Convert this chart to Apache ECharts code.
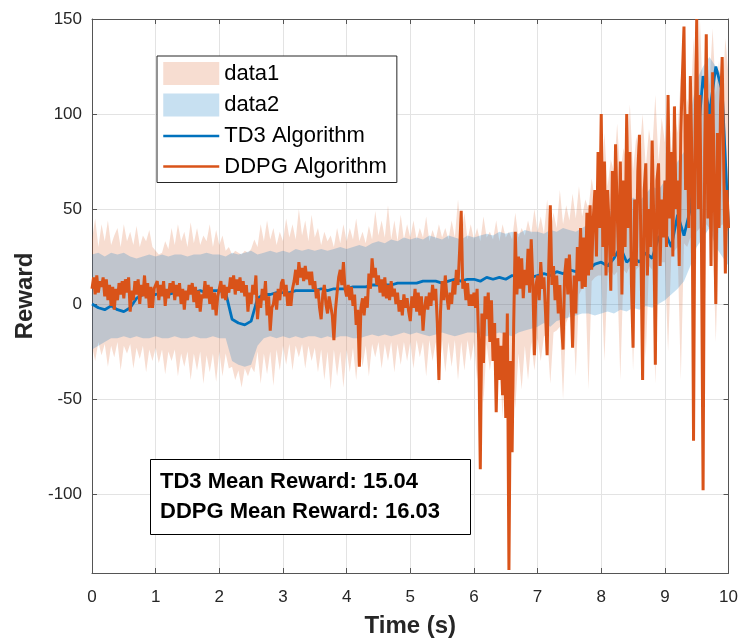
<!DOCTYPE html>
<html><head><meta charset="utf-8">
<script src="https://cdn.jsdelivr.net/npm/echarts@6/dist/echarts.min.js"></script>
<style>html,body{margin:0;padding:0;background:#fff}#c{width:741px;height:644px}</style>
</head><body><div id="c"></div>
<script>
// ---- data ----
const xTicks = [0,1,2,3,4,5,6,7,8,9,10];
const yTicks = [-100,-50,0,50,100,150];
const legendNames = ['data1','data2','TD3 Algorithm','DDPG Algorithm'];
const statsText = ['TD3 Mean Reward: 15.04','DDPG Mean Reward: 16.03'];
const xTitle = 'Time (s)';
const yTitle = 'Reward';

// DDPG reward, sampled every 0.025 s from t=0 to t=10
const ddpgStep = 0.025;
const ddpg = [
  8,14,5,15,6,12,9,14,4,13, 2,10,-1,9,-3,8,2,11,5,12, 3,13,6,14,-4,7,2,12,5,13, 0,10,4,15,3,11,-2,9,-2,8,
  7,12,2,10,4,12,-1,8,3,11, 6,12,2,10,4,11,0,8,-3,7, 2,10,5,11,1,9,-2,7,-4,5, 3,12,3,10,0,9,-3,6,-6,4,
  5,12,3,10,2,9,6,14,8,15, 5,13,7,14,6,12,4,10,-4,6, 0,10,5,15,-8,3,-2,8,2,12, -6,4,-14,-2,0,6,-3,8,2,11,
  13,4,10,-1,6,-1,8,12,18,10, 22,14,19,12,20,13,17,10,17,8, 12,3,8,-2,-8,5,10,0,-5,4, 3,-6,-19,-3,6,14,18,10,22,8,
  4,10,2,9,-1,5,-11,-3,-33,-2, 3,-6,4,-2,16,8,24,14,19,10, 15,6,13,4,14,3,10,2,12,4, 8,0,6,-4,2,-6,5,-2,3,-4,
  -9,4,-2,8,-4,6,-6,4,-14,-2, 4,-3,6,-1,10,2,8,-10,-40,-4, 12,2,15,4,-3,6,0,12,5,18, 10,28,49,8,12,2,11,-1,5,-1,
  6,-2,8,-20,-87,-5,-31,4,-8,6, -20,2,-30,-10,-57,-18,-40,-22,-48,-15, -60,-5,-140,-30,-78,-10,38,5,25,8, 24,3,18,10,29,6,34,12,-27,10,
  15,2,22,8,14,-5,-27,20,52,10, 20,2,15,-5,10,-10,-24,15,24,5, 26,5,-23,15,-5,30,12,40,8,35, 9,48,15,52,18,45,60,25,80,40,
  100,30,75,15,60,40,7,70,25,84, 50,20,75,5,65,30,100,40,80,10, -23,55,20,70,89,25,-40,60,74,15, 50,30,86,45,-32,65,74,20,55,35,
  65,30,110,45,80,25,104,50,65,20, 90,120,146,60,100,40,120,75,-72,90, 150,50,110,30,-98,80,142,45,100,20, 122,60,0,90,40,105,130,70,16,60,
  40
];

// TD3 reward, sampled every 0.1 s
const td3Step = 0.1;
const td3 = [
  0,-2,-3,-1,-3,-4,-2,3,5,5,
  5,6,5,6,6,6,6,7,6,7,
  7,6,-8,-10,-11,-9,3,5,5,6,
  6,6,7,7,7,7,8,7,8,8,
  8,9,9,9,10,10,10,10,11,11,
  11,11,12,12,12,11,12,13,12,13,
  13,12,14,13,14,13,15,14,15,14,
  15,16,15,17,16,18,17,20,18,21,
  22,20,24,30,22,25,22,27,24,35,
  38,30,47,36,50,80,120,100,125,112,
  40
];

// DDPG shaded band (data1), sampled every 0.05 s
const data1Step = 0.05;
const data1Upper = [
  34,45,30,42,33,44,31,36,40,30,42,33,38,31,41,30,36,33,39,30,
  28,26,27,33,29,40,31,42,33,38,30,43,32,40,31,36,33,42,30,39,
  31,36,28,30,26,28,27,26,28,27,29,34,30,42,33,44,34,40,31,38,
  33,45,35,42,34,50,36,44,33,47,35,40,31,38,33,36,30,40,32,42,
  33,40,34,45,33,38,32,41,34,49,36,44,35,52,34,44,33,47,34,42,
  35,44,34,40,35,46,33,39,34,42,35,40,34,44,35,55,36,48,34,42,
  34,40,33,46,35,38,34,44,33,42,35,38,34,48,35,40,36,44,37,50,
  38,46,37,55,38,48,40,60,42,52,44,58,45,62,46,55,50,66,55,70,
  60,90,62,76,70,95,68,82,75,105,70,88,78,100,72,92,80,110,75,98,
  85,112,80,100,90,120,88,108,100,140,110,150,105,135,115,145,110,128,105,140,
  120
];
const data1Lower = [
  -22,-30,-20,-27,-21,-33,-22,-28,-20,-35,-22,-26,-21,-34,-23,-29,-22,-36,-24,-30,
  -23,-31,-24,-37,-25,-30,-24,-38,-26,-33,-25,-40,-26,-35,-25,-42,-27,-36,-26,-41,
  -25,-38,-26,-34,-33,-40,-35,-44,-34,-38,-33,-36,-25,-42,-26,-37,-25,-43,-24,-35,
  -22,-32,-21,-35,-22,-28,-21,-34,-22,-30,-23,-36,-24,-40,-25,-45,-24,-38,-25,-44,
  -24,-36,-23,-40,-22,-33,-22,-38,-21,-28,-20,-34,-21,-30,-20,-36,-21,-32,-20,-30,
  -20,-34,-19,-28,-20,-38,-19,-30,-20,-42,-19,-36,-20,-33,-19,-40,-20,-35,-19,-30,
  -20,-40,-22,-52,-21,-35,-24,-45,-26,-60,-25,-50,-28,-55,-26,-45,-22,-40,-20,-35,
  -18,-30,-17,-16,-42,-15,-14,-12,-50,-10,-5,0,-38,5,8,10,-45,12,14,15,
  15,-30,16,18,15,17,-40,18,16,20,-35,18,20,19,-28,20,18,-42,20,22,
  22,-25,25,28,30,-40,32,30,35,-50,38,40,-60,42,40,38,-20,40,42,40,
  38
];

// TD3 shaded band (data2), sampled every 0.1 s
const data2Step = 0.1;
const data2Upper = [
  26,27,25,27,26,27,25,24,25,26,
  25,26,25,26,26,25,26,26,27,26,
  26,25,27,26,27,28,26,27,28,27,
  28,27,29,28,29,28,29,28,29,30,
  29,30,31,30,32,33,32,34,33,35,
  34,35,34,36,35,34,36,35,34,36,
  35,36,37,36,38,37,38,37,39,38,
  38,37,39,38,40,39,38,40,42,41,
  45,48,50,55,52,56,54,58,62,60,
  65,68,75,80,100,118,125,130,125,120,
  60
];
const data2Lower = [
  -24,-22,-20,-18,-18,-17,-18,-17,-18,-18,
  -17,-18,-18,-17,-18,-18,-17,-18,-18,-17,
  -18,-18,-30,-32,-33,-32,-22,-18,-17,-18,
  -17,-18,-17,-18,-17,-17,-18,-17,-18,-17,
  -17,-18,-18,-17,-16,-17,-16,-17,-16,-15,
  -16,-15,-16,-17,-16,-15,-16,-17,-16,-15,
  -15,-16,-17,-16,-15,-16,-17,-15,-14,-13,
  -12,-10,-12,-9,-8,-7,-6,-5,-5,-6,
  -5,-4,-5,-3,-4,-2,-3,-1,-2,0,
  2,5,8,12,20,30,35,40,30,25,
  20
];

// ---- chart ----
const FONT = '"Liberation Sans", Arial, Helvetica, sans-serif';
const BLUE = '#0072BD', ORANGE = '#D95319';
const FILL1 = 'rgba(217,83,25,0.2)', FILL2 = 'rgba(0,114,189,0.22)';
const Y_MIN = -141.6, Y_MAX = 150;

function pairs(arr, step){ return arr.map((v,i)=>[+(i*step).toFixed(3), v]); }

function bandSeries(name, up, lo, step, color){
  const rows = up.map((u,i)=>[+(i*step).toFixed(3), lo[i], u]);
  return {
    type:'custom', name, data: rows, encode:{x:0, y:[1,2]},
    itemStyle:{color}, z:1, silent:true, clip:true,
    renderItem(params, api){
      if(params.dataIndex !== 0) return null;
      const top = rows.map(r=>api.coord([r[0], r[2]]));
      const bot = rows.map(r=>api.coord([r[0], r[1]])).reverse();
      return {type:'polygon', shape:{points: top.concat(bot)}, style:{fill: color, stroke: null}};
    }
  };
}

const axisLineStyle = {color:'#555', width:1};
const chart = echarts.init(document.getElementById('c'), null, {renderer:'canvas'});
chart.setOption({
  animation:false,
  backgroundColor:'#fff',
  grid:{left:92, right:12, top:19, bottom:71, containLabel:false},
  title:{
    text: statsText.join('\n'), left:150, top:459,
    padding:[8,31,8,10], borderColor:'#000', borderWidth:1, backgroundColor:'#fff', z:10,
    textStyle:{fontFamily:FONT, fontSize:22, fontWeight:'bold', color:'#000', lineHeight:30}
  },
  legend:{
    orient:'vertical', left:157, top:56, z:10,
    itemWidth:56, itemHeight:23, itemGap:8.5,
    padding:[6,10,5,5], borderColor:'#262626', borderWidth:1, backgroundColor:'#fff',
    selectedMode:false,
    textStyle:{fontFamily:FONT, fontSize:22, color:'#000'},
    data:[
      {name:legendNames[0], icon:'rect'},
      {name:legendNames[1], icon:'rect'},
      {name:legendNames[2], itemStyle:{opacity:0}, lineStyle:{width:2.5}},
      {name:legendNames[3], itemStyle:{opacity:0}, lineStyle:{width:2.5}}
    ]
  },
  xAxis:[
    {type:'value', min:xTicks[0], max:xTicks[xTicks.length-1], interval:1, position:'bottom',
     axisLine:{show:true, onZero:false, lineStyle:axisLineStyle},
     axisTick:{show:true, inside:true, length:5, lineStyle:axisLineStyle},
     axisLabel:{fontFamily:FONT, fontSize:17, color:'#262626', margin:16},
     splitLine:{show:true, lineStyle:{color:'#e3e3e3', width:1}},
     name:xTitle, nameLocation:'middle', nameGap:41,
     nameTextStyle:{fontFamily:FONT, fontSize:24, fontWeight:'bold', color:'#262626'}},
    {type:'value', min:xTicks[0], max:xTicks[xTicks.length-1], interval:1, position:'top',
     axisLine:{show:true, onZero:false, lineStyle:axisLineStyle},
     axisTick:{show:true, inside:true, length:5, lineStyle:axisLineStyle},
     axisLabel:{show:false}, splitLine:{show:false}}
  ],
  yAxis:[
    {type:'value', min:Y_MIN, max:Y_MAX, position:'left',
     axisLine:{show:true, onZero:false, lineStyle:axisLineStyle},
     axisTick:{show:true, inside:true, length:5, lineStyle:axisLineStyle, customValues:yTicks},
     axisLabel:{fontFamily:FONT, fontSize:17, color:'#262626', margin:10, customValues:yTicks},
     splitLine:{show:true, lineStyle:{color:'#e3e3e3', width:1}},
     name:yTitle, nameLocation:'middle', nameGap:53, nameRotate:90,
     nameTextStyle:{fontFamily:FONT, fontSize:24, fontWeight:'bold', color:'#262626'}},
    {type:'value', min:Y_MIN, max:Y_MAX, position:'right',
     axisLine:{show:true, onZero:false, lineStyle:axisLineStyle},
     axisTick:{show:true, inside:true, length:5, lineStyle:axisLineStyle, customValues:yTicks},
     axisLabel:{show:false}, splitLine:{show:false}}
  ],
  series:[
    bandSeries(legendNames[0], data1Upper, data1Lower, data1Step, FILL1),
    bandSeries(legendNames[1], data2Upper, data2Lower, data2Step, FILL2),
    {type:'line', name:legendNames[2], data:pairs(td3, td3Step), showSymbol:false, symbol:'none',
     lineStyle:{width:2.8, color:BLUE}, itemStyle:{color:BLUE}, z:3, silent:true},
    {type:'line', name:legendNames[3], data:pairs(ddpg, ddpgStep), showSymbol:false, symbol:'none',
     lineStyle:{width:3, color:ORANGE}, itemStyle:{color:ORANGE}, z:4, silent:true}
  ]
});
</script></body></html>
